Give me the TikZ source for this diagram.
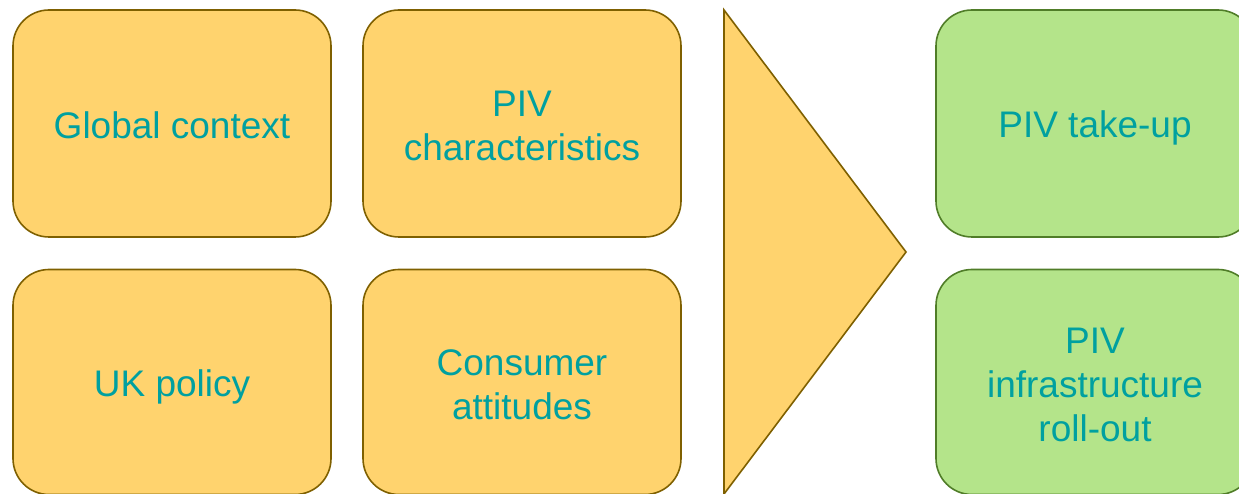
\documentclass[tikz,border=0pt]{standalone}
\usepackage{fontspec}
\setmainfont{Liberation Sans}
\definecolor{yfill}{RGB}{255,211,110}
\definecolor{ydraw}{RGB}{127,96,0}
\definecolor{gfill}{RGB}{180,228,138}
\definecolor{gdraw}{RGB}{80,125,40}
\definecolor{teal}{RGB}{0,160,160}
\tikzset{
  box/.style={rectangle, rounded corners=36pt, line width=1.6pt, minimum width=318pt, minimum height=227pt,
    inner sep=0pt},
  ybox/.style={box, fill=yfill, draw=ydraw},
  gbox/.style={box, fill=gfill, draw=gdraw},
  lbl/.style={align=center, text=teal, font=\fontsize{37}{44}\selectfont, inner sep=0pt},
}
\begin{document}
\begin{tikzpicture}[x=1pt,y=-1pt]
\useasboundingbox (0,0) rectangle (1239,494);
\clip (0,0) rectangle (1239,494);
\node[ybox, label={[lbl,yshift=-2pt]center:Global context}] (gc) at (172,123.5) {};
\node[ybox, label={[lbl,yshift=-2pt]center:{PIV\\characteristics}}] (pc) at (522,123.5) {};
\node[ybox, minimum height=225pt, label={[lbl,yshift=-5pt]center:UK policy}] (uk) at (172,382) {};
\node[ybox, minimum height=225pt, label={[lbl,yshift=-2.5pt]center:{Consumer\\attitudes}}] (ca) at (522,382) {};
\draw[fill=yfill, draw=ydraw, line width=1.6pt, line join=miter] (724,10) -- (906,252) -- (724,494) -- cycle;
\node[gbox, label={[lbl,yshift=-4pt]center:PIV take-up}] (tu) at (1095,123.5) {};
\node[gbox, minimum height=225pt, label={[lbl,yshift=-2.5pt]center:{PIV\\infrastructure\\roll-out}}] (ro) at (1095,382) {};
\end{tikzpicture}
\end{document}
